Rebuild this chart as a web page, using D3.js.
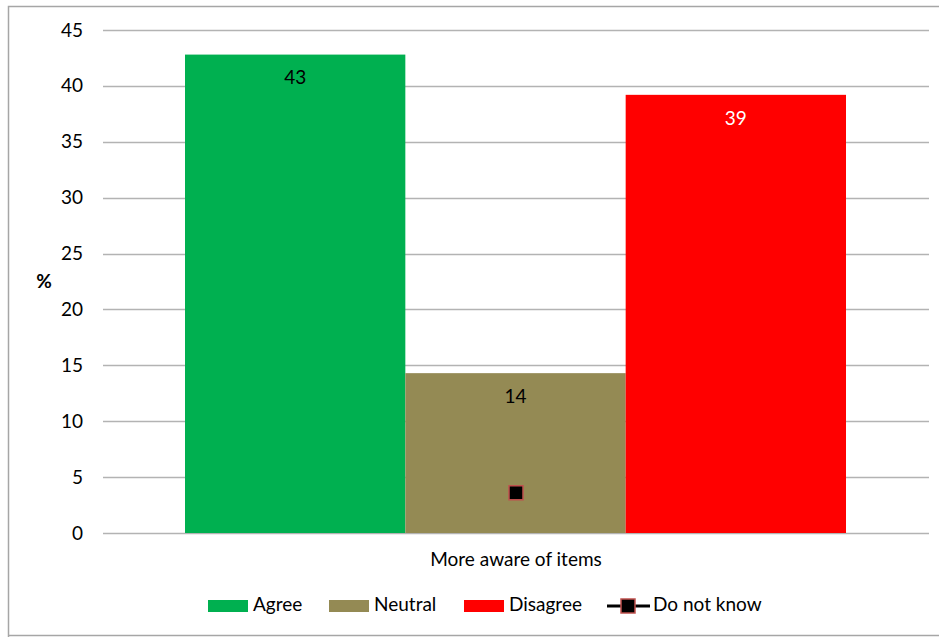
<!DOCTYPE html>
<html>
<head>
<meta charset="utf-8">
<script src="https://cdn.jsdelivr.net/npm/d3@7"></script>
<style>
  html, body { margin: 0; padding: 0; background: #fff; }
  svg { display: block; font-family: Lato, "Open Sans", sans-serif; }
</style>
</head>
<body>
<svg id="chart" width="939" height="637"></svg>
<script>
// Survey response shares (%) for a single question
const categories = ["More aware of items"];
const seriesNames = ["Agree", "Neutral", "Disagree"];
const seriesValues = [42.8, 14.3, 39.2];
const seriesColors = ["#00b050", "#948a54", "#ff0000"];
const labelColors = ["#000000", "#000000", "#ffffff"];
const doNotKnow = [3.6];
const yTicks = [0, 5, 10, 15, 20, 25, 30, 35, 40, 45];

const svg = d3.select("#chart");
const W = 939, H = 637;
const FS = 19;

// chart frame
svg.append("path")
  .attr("d", `M8.5,${H} L8.5,6.5 L${W},6.5 M8.5,635.5 L${W},635.5`)
  .attr("fill", "none")
  .attr("stroke", "#a6a6a6")
  .attr("stroke-width", 1.5);

const plot = { left: 103, right: 929, top: 30, bottom: 533 };

const y = d3.scaleLinear().domain([0, 45]).range([plot.bottom, plot.top]);
const x0 = d3.scaleBand().domain(categories).range([plot.left, plot.right]).padding(0);
const x1 = d3.scaleBand().domain(seriesNames).range([82, x0.bandwidth() - 83]).padding(0);

// gridlines
svg.append("g")
  .selectAll("line")
  .data(yTicks)
  .join("line")
  .attr("x1", plot.left).attr("x2", plot.right)
  .attr("y1", d => Math.round(y(d)) + 0.5).attr("y2", d => Math.round(y(d)) + 0.5)
  .attr("stroke", "#b3b3b3").attr("stroke-width", 1.3);

// y axis labels
const yAxis = d3.axisLeft(y).tickValues(yTicks).tickSize(0).tickPadding(0);
const gy = svg.append("g").attr("transform", `translate(83,0)`).call(yAxis);
gy.select(".domain").remove();
gy.selectAll("text")
  .attr("font-family", "Lato, 'Open Sans', sans-serif")
  .attr("font-size", FS).attr("fill", "#000");

svg.append("text")
  .attr("x", 44).attr("y", 283)
  .attr("text-anchor", "middle").attr("dominant-baseline", "middle")
  .attr("font-size", FS).attr("font-weight", "bold")
  .text("%");

// bars
const group = svg.append("g")
  .selectAll("g")
  .data(categories)
  .join("g")
  .attr("transform", d => `translate(${x0(d)},0)`);

const barData = seriesNames.map((s, i) => ({ name: s, value: seriesValues[i], color: seriesColors[i], label: labelColors[i] }));

group.selectAll("rect")
  .data(barData)
  .join("rect")
  .attr("x", d => x1(d.name))
  .attr("width", x1.bandwidth())
  .attr("y", d => y(d.value))
  .attr("height", d => y(0) - y(d.value))
  .attr("fill", d => d.color);

group.selectAll("text.val")
  .data(barData)
  .join("text")
  .attr("class", "val")
  .attr("x", d => x1(d.name) + x1.bandwidth() / 2)
  .attr("y", d => y(d.value) + 25)
  .attr("text-anchor", "middle").attr("dominant-baseline", "middle")
  .attr("font-size", FS)
  .attr("fill", d => d.label)
  .text(d => d3.format(".0f")(d.value));

// "Do not know" marker at category centre
group.selectAll("rect.dnk")
  .data(doNotKnow)
  .join("rect")
  .attr("class", "dnk")
  .attr("x", x0.bandwidth() / 2 - 7)
  .attr("y", d => y(d) - 7)
  .attr("width", 14).attr("height", 14)
  .attr("fill", "#000")
  .attr("stroke", "#c0504d").attr("stroke-width", 1.5);

// category label
svg.append("g")
  .selectAll("text")
  .data(categories)
  .join("text")
  .attr("x", d => x0(d) + x0.bandwidth() / 2)
  .attr("y", 561)
  .attr("text-anchor", "middle").attr("dominant-baseline", "middle")
  .attr("font-size", FS)
  .text(d => d);

// legend
const legend = svg.append("g").attr("transform", "translate(0,606)");
const legendX = [208, 329, 464];
seriesNames.forEach((s, i) => {
  legend.append("rect")
    .attr("x", legendX[i]).attr("y", -6)
    .attr("width", 40).attr("height", 12)
    .attr("fill", seriesColors[i]);
  legend.append("text")
    .attr("x", legendX[i] + 45).attr("y", 0)
    .attr("dominant-baseline", "middle")
    .attr("font-size", FS)
    .text(s);
});
legend.append("line")
  .attr("x1", 607).attr("x2", 650).attr("y1", 0).attr("y2", 0)
  .attr("stroke", "#000").attr("stroke-width", 3);
legend.append("rect")
  .attr("x", 621).attr("y", -7).attr("width", 14).attr("height", 14)
  .attr("fill", "#000").attr("stroke", "#c0504d").attr("stroke-width", 1.5);
legend.append("text")
  .attr("x", 653).attr("y", 0)
  .attr("dominant-baseline", "middle")
  .attr("font-size", FS)
  .text("Do not know");
</script>
</body>
</html>
